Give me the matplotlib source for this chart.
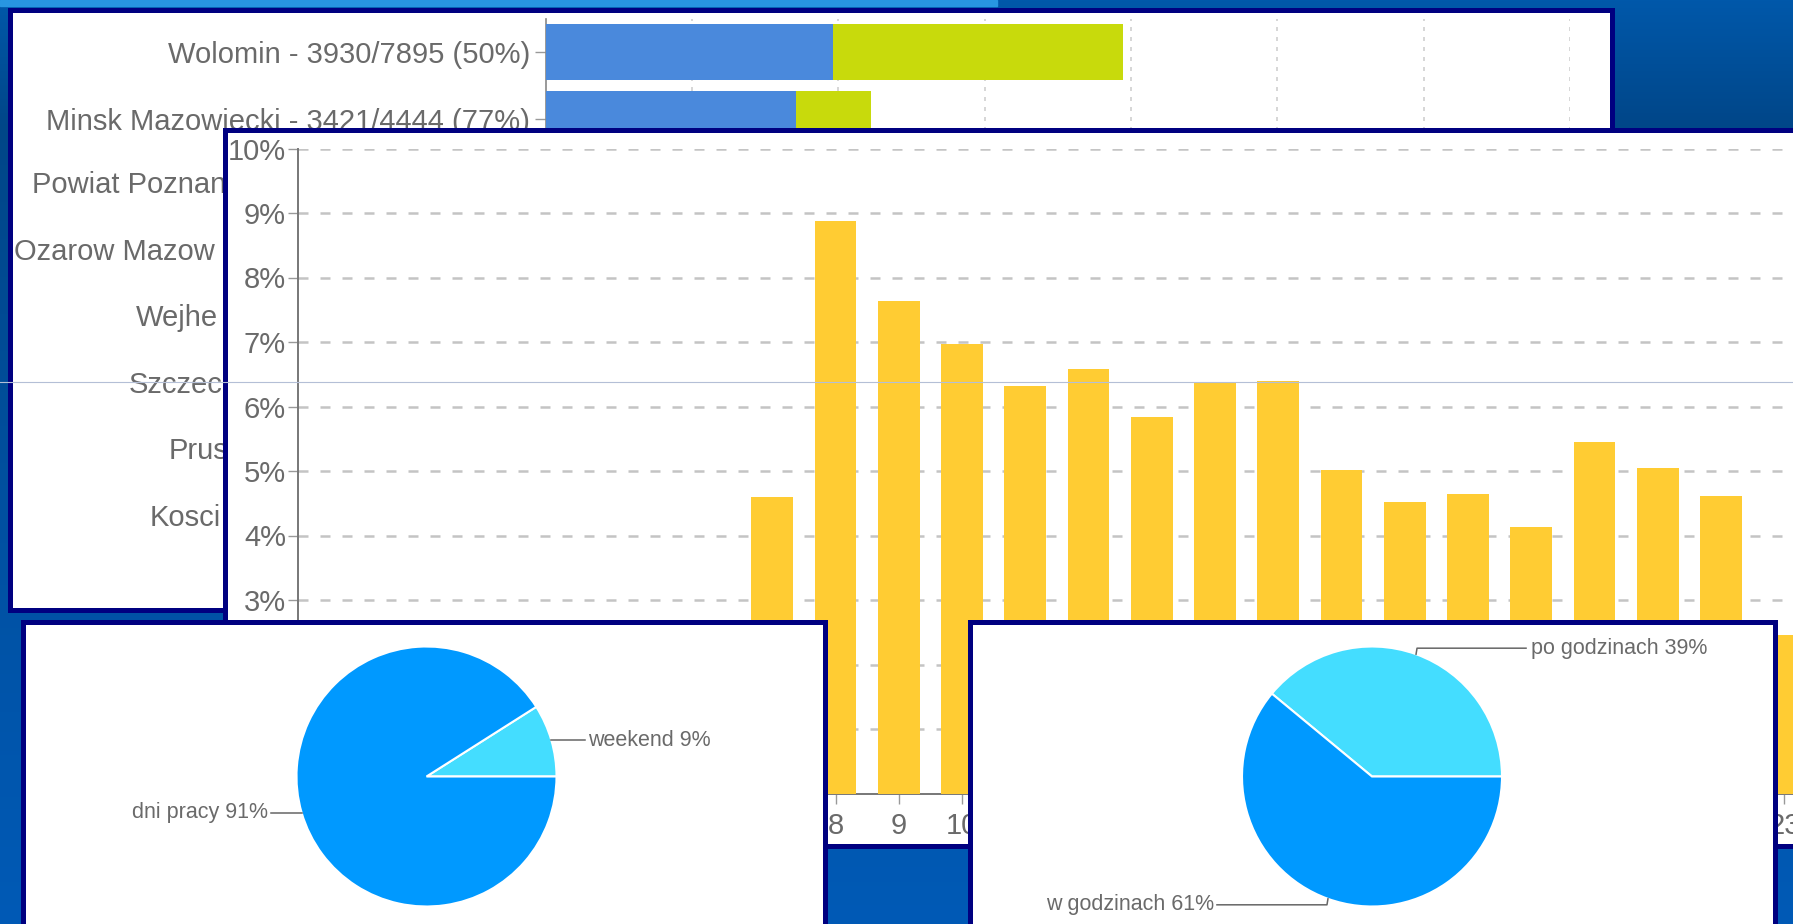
import numpy as np
import matplotlib
matplotlib.use("Agg")
import matplotlib.pyplot as plt
import matplotlib.transforms as mtransforms
from matplotlib.lines import Line2D
from matplotlib.patches import Rectangle

plt.rcParams['font.family'] = ['Liberation Sans', 'DejaVu Sans']

# ---- data ----
# top panel: towns (only two rows are visible, the rest are covered)
towns = ["Wolomin", "Minsk Mazowiecki"]
done = [3930, 3421]
total = [7895, 4444]
# what is left readable of the covered rows' labels
covered_towns = ["Powiat Poznan", "Ozarow Mazow", "Wejhe",
                 "Szczec", "Prus", "Kosci"]

# hour of day share (%); hours 0-6 are hidden behind the pie panel
hours = list(range(24))
hour_share = [None, None, None, None, None, None, None,
              4.59, 8.87, 7.64, 6.97, 6.32, 6.58, 5.83, 6.36, 6.39,
              5.01, 4.52, 4.64, 4.13, 5.45, 5.05, 4.61, 2.46]

# pies
days_labels = ["weekend", "dni pracy"]
days_share = [9, 91]
work_labels = ["po godzinach", "w godzinach"]
work_share = [39, 61]

# ---- style ----
W, H = 1793, 924
NAVY = '#000080'
GREY_TXT = '#6a6a6a'
BLUE_BAR = '#4A89DC'
GREEN_BAR = '#C8DA0C'
YELLOW = '#FFCC33'
PIE_MAIN = '#0099FF'
PIE_LIGHT = '#44DDFF'


def fbox(x0, y0, x1, y1):
    return [x0 / W, 1 - y1 / H, (x1 - x0) / W, (y1 - y0) / H]


def frame(x0, y0, x1, y1):
    ax = fig.add_axes(fbox(x0 + 2.5, y0 + 2.5, x1 - 2.5, y1 - 2.5))
    ax.set_facecolor('white')
    ax.set_xticks([])
    ax.set_yticks([])
    for s in ax.spines.values():
        s.set_color(NAVY)
        s.set_linewidth(5 * 0.72)
    return ax


fig = plt.figure(figsize=(W / 100, H / 100), dpi=100)

# background gradient
bg = fig.add_axes([0, 0, 1, 1])
stops_y = [0, 127, 500, 924]
stops_c = np.array([[0, 88, 170], [0, 70, 136], [0, 80, 160], [0, 90, 182]]) / 255
yy = np.arange(H)
grad = np.stack([np.interp(yy, stops_y, stops_c[:, k]) for k in range(3)], axis=1)
bg.imshow(grad[:, None, :], extent=(0, W, H, 0), aspect='auto')
bg.add_patch(Rectangle((0, 0), 997, 6, color='#2896E1'))
bg.set_xlim(0, W)
bg.set_ylim(H, 0)
bg.axis('off')

# ---- panel 1: towns ----
frame(7, 7, 1615, 612)
ax1 = fig.add_axes(fbox(545.5, 19, 1570, 551))
ax1.set_facecolor('none')
rest = [t - d for t, d in zip(total, done)]
ypos = np.arange(len(towns))
ax1.barh(ypos, done, height=0.84, color=BLUE_BAR, zorder=3)
ax1.barh(ypos, rest, left=done, height=0.84, color=GREEN_BAR, zorder=3)
n_rows = len(towns) + len(covered_towns)
ax1.set_ylim(n_rows - 0.5, -0.5)
ax1.set_xlim(0, 14000)
ax1.set_xticks(range(2000, 14001, 2000))
ax1.xaxis.grid(True, color='#cfcfcf', linewidth=1.2, linestyle=(0, (2.4, 3.6)))
ax1.set_axisbelow(True)
ax1.tick_params(axis='x', length=0, labelbottom=False)
labels = [f"{t} - {d}/{tot} ({round(100 * d / tot)}%)" for t, d, tot in zip(towns, done, total)]
ax1.set_yticks(range(n_rows))
ax1.set_yticklabels(labels + [''] * len(covered_towns), fontsize=21, color=GREY_TXT)
ax1.tick_params(axis='y', length=8, width=1, color='#999999', pad=3)
for s in ['top', 'right', 'bottom']:
    ax1.spines[s].set_visible(False)
ax1.spines['left'].set_color('#888888')
ax1.spines['left'].set_linewidth(1.2)
# covered labels: placed in figure x, data y
blend = mtransforms.blended_transform_factory(fig.transFigure, ax1.transData)
label_left_px = [31.6, 14, 136, 129, 169, 150]
for i, (name, xl) in enumerate(zip(covered_towns, label_left_px)):
    ax1.text(xl / W, len(towns) + i, name, transform=blend,
             fontsize=21, color=GREY_TXT, ha='left', va='center')

# ---- panel 2: hours ----
frame(222, 127, 1835, 848)
ax2 = fig.add_axes(fbox(297.9, 148.5, 297.9 + 24 * 63.25, 793.5))
ax2.set_facecolor('none')
hx = [h for h, v in zip(hours, hour_share) if v is not None]
hv = [v for v in hour_share if v is not None]
ax2.bar(hx, hv, width=0.66, color=YELLOW, zorder=3)
ax2.set_xlim(-0.5, 23.5)
ax2.set_ylim(0, 10)
ax2.set_yticks(range(0, 11))
ax2.set_yticklabels([f"{v}%" for v in range(0, 11)], fontsize=21, color=GREY_TXT)
ax2.set_xticks(hours)
ax2.set_xticklabels([str(h) for h in hours], fontsize=21, color=GREY_TXT)
ax2.yaxis.grid(True, color='#c4c4c4', linewidth=1.8, linestyle=(0, (4.0, 4.8)))
ax2.set_axisbelow(True)
ax2.tick_params(axis='y', length=7, width=1, color='#999999', pad=1.5)
ax2.tick_params(axis='x', length=7, width=1, color='#999999', pad=6)
for s in ['top', 'right']:
    ax2.spines[s].set_visible(False)
for s in ['left', 'bottom']:
    ax2.spines[s].set_color('#777777')
    ax2.spines[s].set_linewidth(1.4)

# thin horizontal artefact line across the slide
fig.add_artist(Line2D([0, 1], [1 - 382 / H] * 2, transform=fig.transFigure,
                      color='#b4bfd6', linewidth=0.8, zorder=5))


# ---- pies ----
def pie_panel(box, centre, values, names, label_style):
    frame(*box)
    cx, cy = centre
    r = 130
    ax = fig.add_axes(fbox(cx - r, cy - r, cx + r, cy + r))
    ax.pie(values, colors=[PIE_LIGHT, PIE_MAIN], startangle=0, counterclock=True,
           wedgeprops=dict(edgecolor='white', linewidth=1.5))
    ax.set_xlim(-1, 1)
    ax.set_ylim(-1, 1)
    ax.set_aspect('equal')
    start = 0.0
    for v, name, (dy, run, gap) in zip(values, names, label_style):
        mid = np.deg2rad(start + 3.6 * v / 2)
        start += 3.6 * v
        px, py = np.cos(mid), np.sin(mid)
        side = 1 if px > 0 else -1
        ky = py + dy / r
        kx = px + side * (1 if dy else 0) / r
        ex = kx + side * run / r
        ax.plot([px, kx, ex], [py, ky, ky], color='#666666', linewidth=1.1,
                clip_on=False)
        ax.text(ex + side * gap / r, ky, f"{name} {v}%", fontsize=15.5,
                color=GREY_TXT, ha='left' if side > 0 else 'right', va='center',
                clip_on=False)


pie_panel((20, 620, 827, 940), (426.5, 776.5), days_share, days_labels,
          [(0, 34, 3), (0, 31, 3)])
pie_panel((967, 620, 1777, 940), (1372, 776.5), work_share, work_labels,
          [(6, 109, 5), (-6, 110, 3)])

fig.savefig('out.png', dpi=100)
